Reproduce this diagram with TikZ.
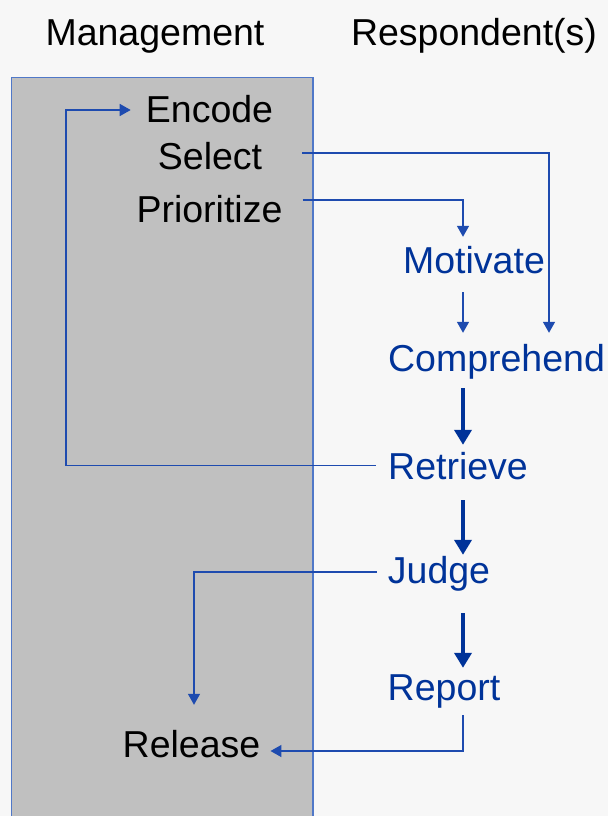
\documentclass[tikz,border=0pt]{standalone}
\usepackage{fontspec}
\setmainfont{Liberation Sans}
\usetikzlibrary{arrows.meta}
\definecolor{bgc}{RGB}{247,247,247}
\definecolor{boxfill}{RGB}{192,192,192}
\definecolor{boxline}{RGB}{80,120,200}
\definecolor{linec}{RGB}{30,75,175}
\definecolor{textblue}{RGB}{0,51,153}
\tikzset{
  lbl/.style={anchor=base, inner sep=0pt, text height=27pt, text depth=0pt, font=\fontsize{37.5}{45}\selectfont},
  mg/.style={lbl, text=black},
  rs/.style={lbl, text=textblue},
  thinarr/.style={draw=linec, line width=1.5pt, -{Triangle[width=12pt,length=11pt]}},
  thickarr/.style={draw=textblue, line width=4pt, -{Triangle[width=17pt,length=15pt]}},
}
\begin{document}
\begin{tikzpicture}[x=1pt,y=-1pt]
\useasboundingbox (0,0) rectangle (608,816);
\fill[bgc] (0,0) rectangle (608,816);
\begin{scope}
\clip (0,0) rectangle (608,816);
\draw[boxline, line width=1.5pt, fill=boxfill] (11.5,77.5) rectangle (313,830);
\end{scope}
% titles
\node[mg] (tman) at (155,46) {Management};
\node[mg] (tres) at (474,46) {Respondent(s)};
% management steps
\node[mg] (encode) at (209.5,122) {Encode};
\node[mg] (select) at (210,169) {Select};
\node[mg] (prioritize) at (209.5,222) {Prioritize};
\node[mg] (release) at (191.5,757) {Release};
% respondent steps
\node[rs] (motivate) at (474,273) {Motivate};
\node[rs] (comprehend) at (496.5,371) {Comprehend};
\node[rs] (retrieve) at (458,479) {Retrieve};
\node[rs] (judge) at (439,583) {Judge};
\node[rs] (report) at (444,700) {Report};
% connectors
\draw[thinarr] ([xshift=-12pt]retrieve.west) -- ++(-310,0) |- ([xshift=-15pt,yshift=-1.5pt]encode.west);
\draw[thinarr] ([xshift=40pt,yshift=2.5pt]select.east) -| ([xshift=52.5pt,yshift=11pt]comprehend.north);
\draw[thinarr] ([xshift=20pt,yshift=8.5pt]prioritize.east) -| ([xshift=-11pt,yshift=9pt]motivate.north);
\draw[thinarr] ([xshift=-11pt,yshift=-19pt]motivate.south) -- ([xshift=-33.5pt,yshift=11pt]comprehend.north);
\draw[thickarr] ([xshift=-33.5pt,yshift=-17pt]comprehend.south) -- ([xshift=5pt,yshift=7pt]retrieve.north);
\draw[thickarr] ([xshift=5pt,yshift=-21pt]retrieve.south) -- ([xshift=24pt,yshift=1pt]judge.north);
\draw[thickarr] ([xshift=24pt,yshift=-30pt]judge.south) -- ([xshift=19pt,yshift=5pt]report.north);
\draw[thinarr] ([xshift=-11pt,yshift=-2.5pt]judge.west) -| ([xshift=2.5pt,yshift=25pt]release.north);
\draw[thinarr] ([xshift=19pt,yshift=-15pt]report.south) |- ([xshift=10pt,yshift=-7.5pt]release.east);
\end{tikzpicture}
\end{document}
